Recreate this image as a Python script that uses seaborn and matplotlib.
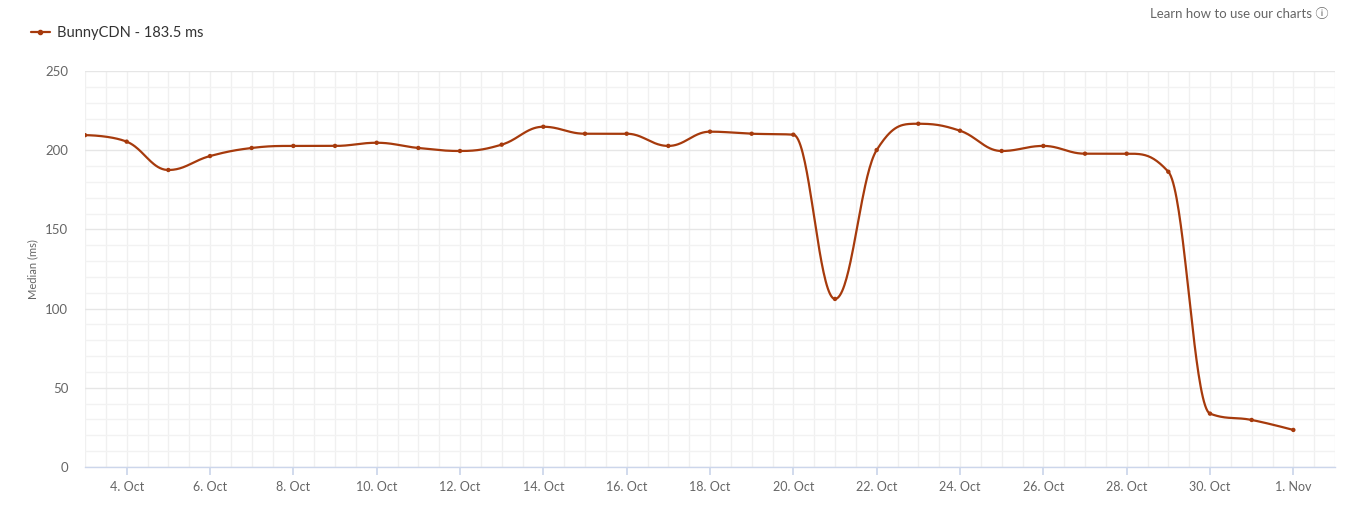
import numpy as np
import pandas as pd
import matplotlib
matplotlib.use("Agg")
import matplotlib.pyplot as plt
import matplotlib.dates as mdates
from matplotlib.lines import Line2D
from matplotlib.ticker import MultipleLocator
import seaborn as sns

# data (median ms per day)
dates = pd.date_range("2023-10-03", "2023-11-01", freq="D")
median_ms = [209.5, 205.4, 187.5, 196.3, 201.4, 202.7, 202.7, 204.7, 201.4, 199.5,
             203.5, 214.8, 210.4, 210.4, 202.7, 211.7, 210.4, 209.8, 106.1, 200.1,
             216.7, 212.3, 199.5, 202.7, 197.8, 197.8, 186.4, 33.7, 29.7, 23.4]
series_name = "BunnyCDN - 183.5 ms"
tick_dates = pd.date_range("2023-10-04", "2023-11-01", freq="2D")
tick_labels = ["4. Oct", "6. Oct", "8. Oct", "10. Oct", "12. Oct", "14. Oct", "16. Oct",
               "18. Oct", "20. Oct", "22. Oct", "24. Oct", "26. Oct", "28. Oct",
               "30. Oct", "1. Nov"]

LINE = "#a63a0c"
GREY = "#666666"


def spline(xs, ys, n=40):
    # highcharts style spline (smoothing 1.5)
    xs = np.asarray(xs, float)
    ys = np.asarray(ys, float)
    k = len(xs)
    lc = np.zeros((k, 2))
    rc = np.zeros((k, 2))
    for i in range(k):
        px, py = xs[i], ys[i]
        if i == 0 or i == k - 1:
            lc[i] = rc[i] = (px, py)
            continue
        lx, ly = xs[i - 1], ys[i - 1]
        nx, ny = xs[i + 1], ys[i + 1]
        lcx = (1.5 * px + lx) / 2.5
        lcy = (1.5 * py + ly) / 2.5
        rcx = (1.5 * px + nx) / 2.5
        rcy = (1.5 * py + ny) / 2.5
        if rcx != lcx:
            corr = (rcy - lcy) * (rcx - px) / (rcx - lcx) + py - rcy
            lcy += corr
            rcy += corr
        if lcy > ly and lcy > py:
            lcy = max(ly, py)
            rcy = 2 * py - lcy
        elif lcy < ly and lcy < py:
            lcy = min(ly, py)
            rcy = 2 * py - lcy
        if rcy > ny and rcy > py:
            rcy = max(ny, py)
            lcy = 2 * py - rcy
        elif rcy < ny and rcy < py:
            rcy = min(ny, py)
            lcy = 2 * py - rcy
        lc[i] = (lcx, lcy)
        rc[i] = (rcx, rcy)
    t = np.linspace(0, 1, n)[:, None]
    out = []
    for i in range(1, k):
        p0 = np.array([xs[i - 1], ys[i - 1]])
        p3 = np.array([xs[i], ys[i]])
        p1, p2 = rc[i - 1], lc[i]
        seg = ((1 - t) ** 3) * p0 + 3 * ((1 - t) ** 2) * t * p1 + 3 * (1 - t) * t ** 2 * p2 + t ** 3 * p3
        out.append(seg if i == 1 else seg[1:])
    out = np.vstack(out)
    return out[:, 0], out[:, 1]


sns.set_theme(style="white")
plt.rcParams["font.family"] = ["Lato", "DejaVu Sans"]

fig = plt.figure(figsize=(13.47, 5.19), dpi=100)
ax = fig.add_axes([85 / 1347, 1 - 467 / 519, 1250 / 1347, 396 / 519])

xnum = mdates.date2num(dates)
sx, sy = spline(xnum, median_ms)
curve = pd.DataFrame({"x": mdates.num2date(sx), "y": sy})
pts = pd.DataFrame({"x": dates, "y": median_ms})

sns.lineplot(data=curve, x="x", y="y", ax=ax, color=LINE, lw=1.6, sort=False, zorder=3)
sns.scatterplot(data=pts, x="x", y="y", ax=ax, color=LINE, s=10, edgecolor="none", zorder=4)

ax.set_ylim(0, 250)
ax.set_xlim(dates[0], dates[0] + pd.Timedelta(days=30))
ax.yaxis.set_major_locator(MultipleLocator(50))
ax.yaxis.set_minor_locator(MultipleLocator(10))
ax.set_xticks(tick_dates)
ax.set_xticklabels(tick_labels)
ax.xaxis.set_minor_locator(mdates.HourLocator(byhour=[0, 12]))

ax.grid(which="major", axis="y", color="#e6e6e6", lw=1)
ax.grid(which="minor", axis="y", color="#f2f2f2", lw=1)
ax.grid(which="both", axis="x", color="#f0f0f0", lw=1)
ax.set_axisbelow(True)

for s in ["top", "right", "left"]:
    ax.spines[s].set_visible(False)
ax.spines["bottom"].set_color("#ccd6eb")
ax.spines["bottom"].set_linewidth(1)

ax.tick_params(axis="x", which="major", length=6, color="#ccd6eb", labelsize=9, labelcolor=GREY, pad=4, bottom=True)
ax.tick_params(axis="x", which="minor", length=0)
ax.tick_params(axis="y", which="both", length=0, labelsize=9.5, labelcolor=GREY, pad=12)

ax.set_xlabel("")
ax.set_ylabel("Median (ms)", fontsize=8, color=GREY, labelpad=5)

handle = Line2D([], [], color=LINE, lw=1.6, marker="o", markersize=3)
ax.legend([handle], [series_name], loc="upper left", bbox_to_anchor=(0.013, 0.975),
          bbox_transform=fig.transFigure, frameon=False, fontsize=10.5,
          handlelength=1.3, handletextpad=0.5, labelcolor="#333333")

fig.text(0.986, 0.985, "Learn how to use our charts \u24d8", ha="right", va="top",
         fontsize=9.5, color=GREY, family=["Lato", "Noto Sans CJK SC", "DejaVu Sans"])

fig.savefig("out.png", dpi=100)
